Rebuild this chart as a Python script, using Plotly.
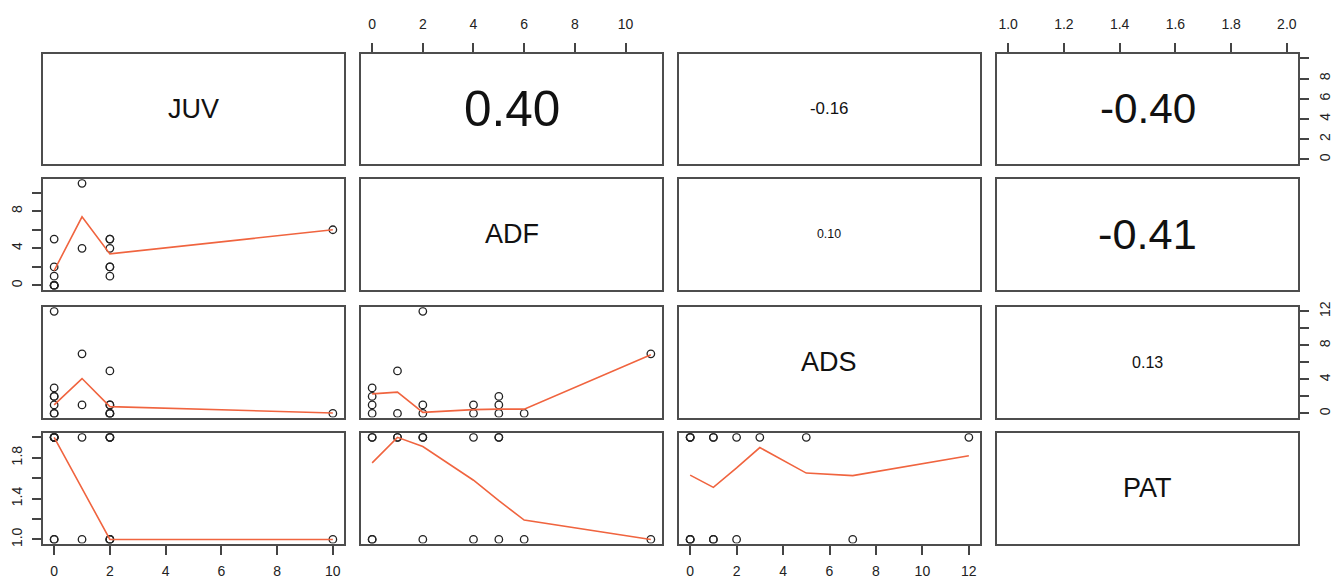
import plotly.graph_objects as go

# ---------------- data ----------------
var_names = ["JUV", "ADF", "ADS", "PAT"]
JUV = [0, 0, 0, 0, 0, 0, 0, 1, 1, 2, 2, 2, 2, 2, 2, 10]
ADF = [0, 0, 0, 0, 1, 2, 5, 11, 4, 1, 4, 2, 5, 5, 2, 6]
ADS = [3, 2, 1, 0, 0, 12, 2, 7, 1, 5, 0, 1, 1, 0, 0, 0]
PAT = [2, 1, 2, 1, 2, 2, 2, 1, 2, 2, 1, 1, 1, 2, 2, 1]

# correlation labels (upper panels)
cor_pairs = [(0, 1), (0, 2), (0, 3), (1, 2), (1, 3), (2, 3)]
cor_values = [0.40, -0.16, -0.40, 0.10, -0.41, 0.13]

# smoothed (lowess) curves: key = (row var, col var)
smooth_ADF_JUV_x = [0, 1, 2, 10]
smooth_ADF_JUV_y = [1.6, 7.4, 3.4, 6.0]
smooth_ADS_JUV_x = [0, 1, 2, 10]
smooth_ADS_JUV_y = [1.0, 4.1, 0.8, 0.05]
smooth_PAT_JUV_x = [0, 1, 2, 10]
smooth_PAT_JUV_y = [2.0, 1.5, 1.0, 1.0]
smooth_ADS_ADF_x = [0, 1, 2, 4, 5, 6, 11]
smooth_ADS_ADF_y = [2.3, 2.5, 0.12, 0.45, 0.5, 0.5, 6.9]
smooth_PAT_ADF_x = [0, 1, 2, 4, 5, 6, 11]
smooth_PAT_ADF_y = [1.75, 2.0, 1.91, 1.58, 1.38, 1.19, 1.0]
smooth_PAT_ADS_x = [0, 1, 2, 3, 5, 7, 12]
smooth_PAT_ADS_y = [1.63, 1.51, 1.70, 1.90, 1.65, 1.625, 1.82]

# axis ticks
JUV_ticks = [0, 2, 4, 6, 8, 10]
ADF_ticks = [0, 2, 4, 6, 8, 10]
ADS_ticks = [0, 2, 4, 6, 8, 10, 12]
PAT_ticks = [1.0, 1.2, 1.4, 1.6, 1.8, 2.0]
JUV_side_labels = ["0", "2", "4", "6", "8", ""]
ADF_side_labels = ["0", "", "4", "", "8", ""]
ADS_side_labels = ["0", "", "4", "", "8", "", "12"]
PAT_side_labels = ["1.0", "", "1.4", "", "1.8", ""]
JUV_bottom_labels = ["0", "2", "4", "6", "8", "10"]
ADF_top_labels = ["0", "2", "4", "6", "8", "10"]
ADS_bottom_labels = ["0", "2", "4", "6", "8", "10", "12"]
PAT_top_labels = ["1.0", "1.2", "1.4", "1.6", "1.8", "2.0"]

# ---------------- layout helpers ----------------
W, H = 1341, 580
cols_px = [(43, 344), (361, 662), (679, 980), (997, 1298)]
rows_px = [(49, 160), (176, 288), (306, 418), (434, 546)]

data = {"JUV": JUV, "ADF": ADF, "ADS": ADS, "PAT": PAT}
ticks = {"JUV": JUV_ticks, "ADF": ADF_ticks, "ADS": ADS_ticks, "PAT": PAT_ticks}
smooth = {
    ("ADF", "JUV"): (smooth_ADF_JUV_x, smooth_ADF_JUV_y),
    ("ADS", "JUV"): (smooth_ADS_JUV_x, smooth_ADS_JUV_y),
    ("PAT", "JUV"): (smooth_PAT_JUV_x, smooth_PAT_JUV_y),
    ("ADS", "ADF"): (smooth_ADS_ADF_x, smooth_ADS_ADF_y),
    ("PAT", "ADF"): (smooth_PAT_ADF_x, smooth_PAT_ADF_y),
    ("PAT", "ADS"): (smooth_PAT_ADS_x, smooth_PAT_ADS_y),
}


def padded(vals):
    lo, hi = min(vals), max(vals)
    d = (hi - lo) * 0.04
    return [lo - d, hi + d]


ranges = {k: padded(v) for k, v in data.items()}

x_tick_cfg = {
    (3, 0): ("bottom", JUV_bottom_labels),
    (3, 2): ("bottom", ADS_bottom_labels),
    (0, 1): ("top", ADF_top_labels),
    (0, 3): ("top", PAT_top_labels),
}
y_tick_cfg = {
    (0, 3): ("right", JUV_side_labels),
    (1, 0): ("left", ADF_side_labels),
    (2, 3): ("right", ADS_side_labels),
    (3, 0): ("left", PAT_side_labels),
}

FONT = "Liberation Sans, Arial, Helvetica, sans-serif"
BOX = "#4d4d4d"
TICKC = "#444444"
LINEC = "#f0643f"
TICKFONT = dict(family=FONT, size=14, color="#222222")

fig = go.Figure()
layout = {}
annotations = []

char_w = {"-": 0.333, ".": 0.278}

for r in range(4):
    for c in range(4):
        k = r * 4 + c + 1
        xa = "xaxis" if k == 1 else f"xaxis{k}"
        ya = "yaxis" if k == 1 else f"yaxis{k}"
        xr = "x" if k == 1 else f"x{k}"
        yr = "y" if k == 1 else f"y{k}"
        xv, yv = var_names[c], var_names[r]
        x0, x1 = cols_px[c]
        y0, y1 = rows_px[r]
        xcfg = dict(
            domain=[x0 / W, x1 / W], range=ranges[xv], anchor=yr,
            showline=True, linecolor=BOX, linewidth=2, mirror=True,
            showgrid=False, zeroline=False, fixedrange=True,
        )
        ycfg = dict(
            domain=[1 - y1 / H, 1 - y0 / H], range=ranges[yv], anchor=xr,
            showline=True, linecolor=BOX, linewidth=2, mirror=True,
            showgrid=False, zeroline=False, fixedrange=True,
        )
        if (r, c) in x_tick_cfg:
            side, labels = x_tick_cfg[(r, c)]
            xcfg.update(
                side=side, tickmode="array", tickvals=ticks[xv], ticktext=labels,
                ticks="outside", ticklen=9, tickwidth=1.6, tickcolor=TICKC,
                tickfont=TICKFONT,
                ticklabelstandoff=5 if side == "bottom" else 9,
            )
        else:
            xcfg.update(showticklabels=False, ticks="")
        if (r, c) in y_tick_cfg:
            side, labels = y_tick_cfg[(r, c)]
            ycfg.update(
                side=side, tickmode="array", tickvals=ticks[yv], ticktext=labels,
                ticks="outside", ticklen=9, tickwidth=1.6, tickcolor=TICKC,
                tickangle=-90,
                tickfont=TICKFONT,
                ticklabelstandoff=4,
            )
        else:
            ycfg.update(showticklabels=False, ticks="")
        layout[xa] = xcfg
        layout[ya] = ycfg

        if r <= c:
            # empty carrier trace so that the panel's axes are drawn
            fig.add_trace(go.Scatter(
                x=[None], y=[None], mode="markers", xaxis=xr, yaxis=yr,
                showlegend=False, hoverinfo="skip",
            ))

        if r == c:
            annotations.append(dict(
                text=var_names[r], xref=f"{xr} domain", yref=f"{yr} domain",
                x=0.5, y=0.5, showarrow=False,
                font=dict(family=FONT, size=27, color="#111111"),
            ))
        elif r < c:
            idx = cor_pairs.index((r, c))
            val = cor_values[idx]
            txt = f"{val:.2f}"
            em = sum(char_w.get(ch, 0.556) for ch in txt)
            size = 0.8 * abs(val) * (x1 - x0) / em
            annotations.append(dict(
                text=txt, xref=f"{xr} domain", yref=f"{yr} domain",
                x=0.5, y=0.5, showarrow=False,
                font=dict(family=FONT, size=size, color="#111111"),
            ))
        else:
            fig.add_trace(go.Scatter(
                x=data[xv], y=data[yv], mode="markers", xaxis=xr, yaxis=yr,
                marker=dict(symbol="circle-open", size=7.5, color="#222222",
                            line=dict(width=1.3, color="#222222")),
                showlegend=False, hoverinfo="skip",
            ))
            sx, sy = smooth[(yv, xv)]
            fig.add_trace(go.Scatter(
                x=sx, y=sy, mode="lines", xaxis=xr, yaxis=yr,
                line=dict(color=LINEC, width=1.6),
                showlegend=False, hoverinfo="skip",
            ))

fig.update_layout(
    width=W, height=H, autosize=False,
    margin=dict(l=0, r=0, t=0, b=0),
    paper_bgcolor="white", plot_bgcolor="white",
    annotations=annotations,
    **layout,
)

fig.write_html("out.html", config={"displayModeBar": False},
               post_script="document.body.style.margin='0';")
